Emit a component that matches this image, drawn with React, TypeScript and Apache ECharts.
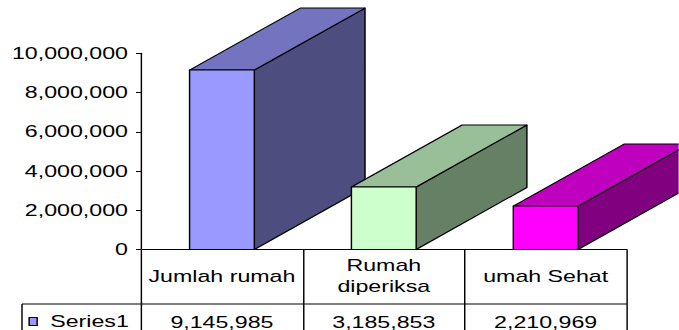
import React, { useEffect, useRef } from "react";
import * as echarts from "echarts";

// Categories, values and axis ticks
const categories = ["Jumlah rumah", "Rumah\ndiperiksa", "umah Sehat"];
const seriesName = "Series1";
const seriesValues = [9145985, 3185853, 2210969];
const yMin = 0;
const yMax = 10000000;
const yInterval = 2000000;

// Face colours for each box: front, top (75%) and side (50%) shades
const frontColors = ["#9999FF", "#CCFFCC", "#FF00FF"];
const topColors = ["#7373BF", "#99BF99", "#BF00BF"];
const sideColors = ["#4D4D80", "#668066", "#800080"];

// The chart is laid out narrow and widened horizontally
const STRETCH = 1.45;
const PAGE_W = 679;
const PAGE_H = 330;
const INNER_W = PAGE_W / STRETCH;

const FONT = "Liberation Sans, Arial, sans-serif";
const fmt = (v: number) => v.toLocaleString("en-US");

export default function App() {
  const ref = useRef<HTMLDivElement>(null);

  useEffect(() => {
    if (!ref.current) return;
    const chart = echarts.init(ref.current, null, { renderer: "svg" });

    const gridLeft = 141 / STRETCH;
    const gridRight = INNER_W - 627 / STRETCH;
    const gridTop = 53.3;
    const gridBottom = PAGE_H - 249.5;
    const rowLineY = 304;

    const option: any = {
      animation: false,
      backgroundColor: "#ffffff",
      textStyle: { fontFamily: FONT },
      grid: {
        left: gridLeft,
        right: gridRight,
        top: gridTop,
        bottom: gridBottom,
        containLabel: false,
      },
      legend: {
        data: [seriesName],
        left: 19.6,
        top: 313.5,
        padding: 0,
        icon: "rect",
        itemWidth: 8 / STRETCH,
        itemHeight: 8,
        itemStyle: { borderColor: "#000", borderWidth: 1 },
        textStyle: {
          fontFamily: FONT,
          fontSize: 16,
          color: "#000",
          padding: [0, 0, 0, 4],
        },
        selectedMode: false,
      },
      xAxis: {
        type: "category",
        data: categories,
        boundaryGap: true,
        axisLine: { show: true, lineStyle: { color: "#000", width: 1 } },
        axisTick: {
          show: true,
          interval: 0,
          alignWithLabel: false,
          length: 100,
          lineStyle: { color: "#000", width: 1 },
        },
        axisLabel: {
          interval: 0,
          margin: 26.5,
          verticalAlign: "middle",
          fontFamily: FONT,
          fontSize: 16,
          lineHeight: 21,
          color: "#000",
        },
        splitLine: { show: false },
      },
      yAxis: {
        type: "value",
        min: yMin,
        max: yMax,
        interval: yInterval,
        axisLine: { show: true, lineStyle: { color: "#000", width: 1 } },
        axisTick: { show: true, length: 5 / STRETCH, lineStyle: { color: "#000" } },
        axisLabel: {
          margin: 9,
          fontFamily: FONT,
          fontSize: 16,
          color: "#000",
          formatter: (v: number) => fmt(v),
        },
        splitLine: { show: false },
      },
      graphic: [
        // data table: line under the category row and the legend cell border
        {
          type: "line",
          shape: { x1: 22 / STRETCH, y1: rowLineY, x2: 627 / STRETCH, y2: rowLineY },
          style: { stroke: "#000", lineWidth: 1 },
          z: 10,
        },
        {
          type: "line",
          shape: { x1: 22 / STRETCH, y1: rowLineY, x2: 22 / STRETCH, y2: PAGE_H + 10 },
          style: { stroke: "#000", lineWidth: 1 },
          z: 10,
        },
      ],
      series: [
        {
          name: seriesName,
          type: "custom",
          clip: false,
          itemStyle: { color: frontColors[0] },
          data: seriesValues.map((v, i) => [i, v]),
          renderItem: (params: any, api: any) => {
            const i = api.value(0);
            const v = api.value(1);
            const base = api.coord([i, 0]);
            const top = api.coord([i, v]);
            const w = api.size([1, 0])[0] * 0.4;
            const dx = w * 1.71;
            const dy = -62;
            const x0 = base[0] - w / 2;
            const x1 = base[0] + w / 2;
            const yb = base[1];
            const yt = top[1];
            const stroke = { stroke: "#000", lineWidth: 1, lineJoin: "round" };
            return {
              type: "group",
              children: [
                {
                  type: "polygon",
                  shape: {
                    points: [
                      [x1, yb],
                      [x1 + dx, yb + dy],
                      [x1 + dx, yt + dy],
                      [x1, yt],
                    ],
                  },
                  style: { fill: sideColors[i], ...stroke },
                },
                {
                  type: "polygon",
                  shape: {
                    points: [
                      [x0, yt],
                      [x0 + dx, yt + dy],
                      [x1 + dx, yt + dy],
                      [x1, yt],
                    ],
                  },
                  style: { fill: topColors[i], ...stroke },
                },
                {
                  type: "rect",
                  shape: { x: x0, y: yt, width: w, height: yb - yt },
                  style: { fill: frontColors[i], ...stroke },
                },
                {
                  type: "text",
                  x: base[0],
                  y: yb + 72.5,
                  style: {
                    text: fmt(v),
                    align: "center",
                    verticalAlign: "middle",
                    fontFamily: FONT,
                    fontSize: 16,
                    fill: "#000",
                  },
                },
              ],
            };
          },
        },
      ],
    };

    chart.setOption(option);
    return () => chart.dispose();
  }, []);

  return (
    <div
      style={{
        position: "fixed",
        left: 0,
        top: 0,
        width: PAGE_W,
        height: PAGE_H,
        overflow: "hidden",
        background: "#fff",
      }}
    >
      <div
        ref={ref}
        style={{
          width: INNER_W,
          height: PAGE_H,
          transform: `scaleX(${STRETCH})`,
          transformOrigin: "0 0",
        }}
      />
    </div>
  );
}
